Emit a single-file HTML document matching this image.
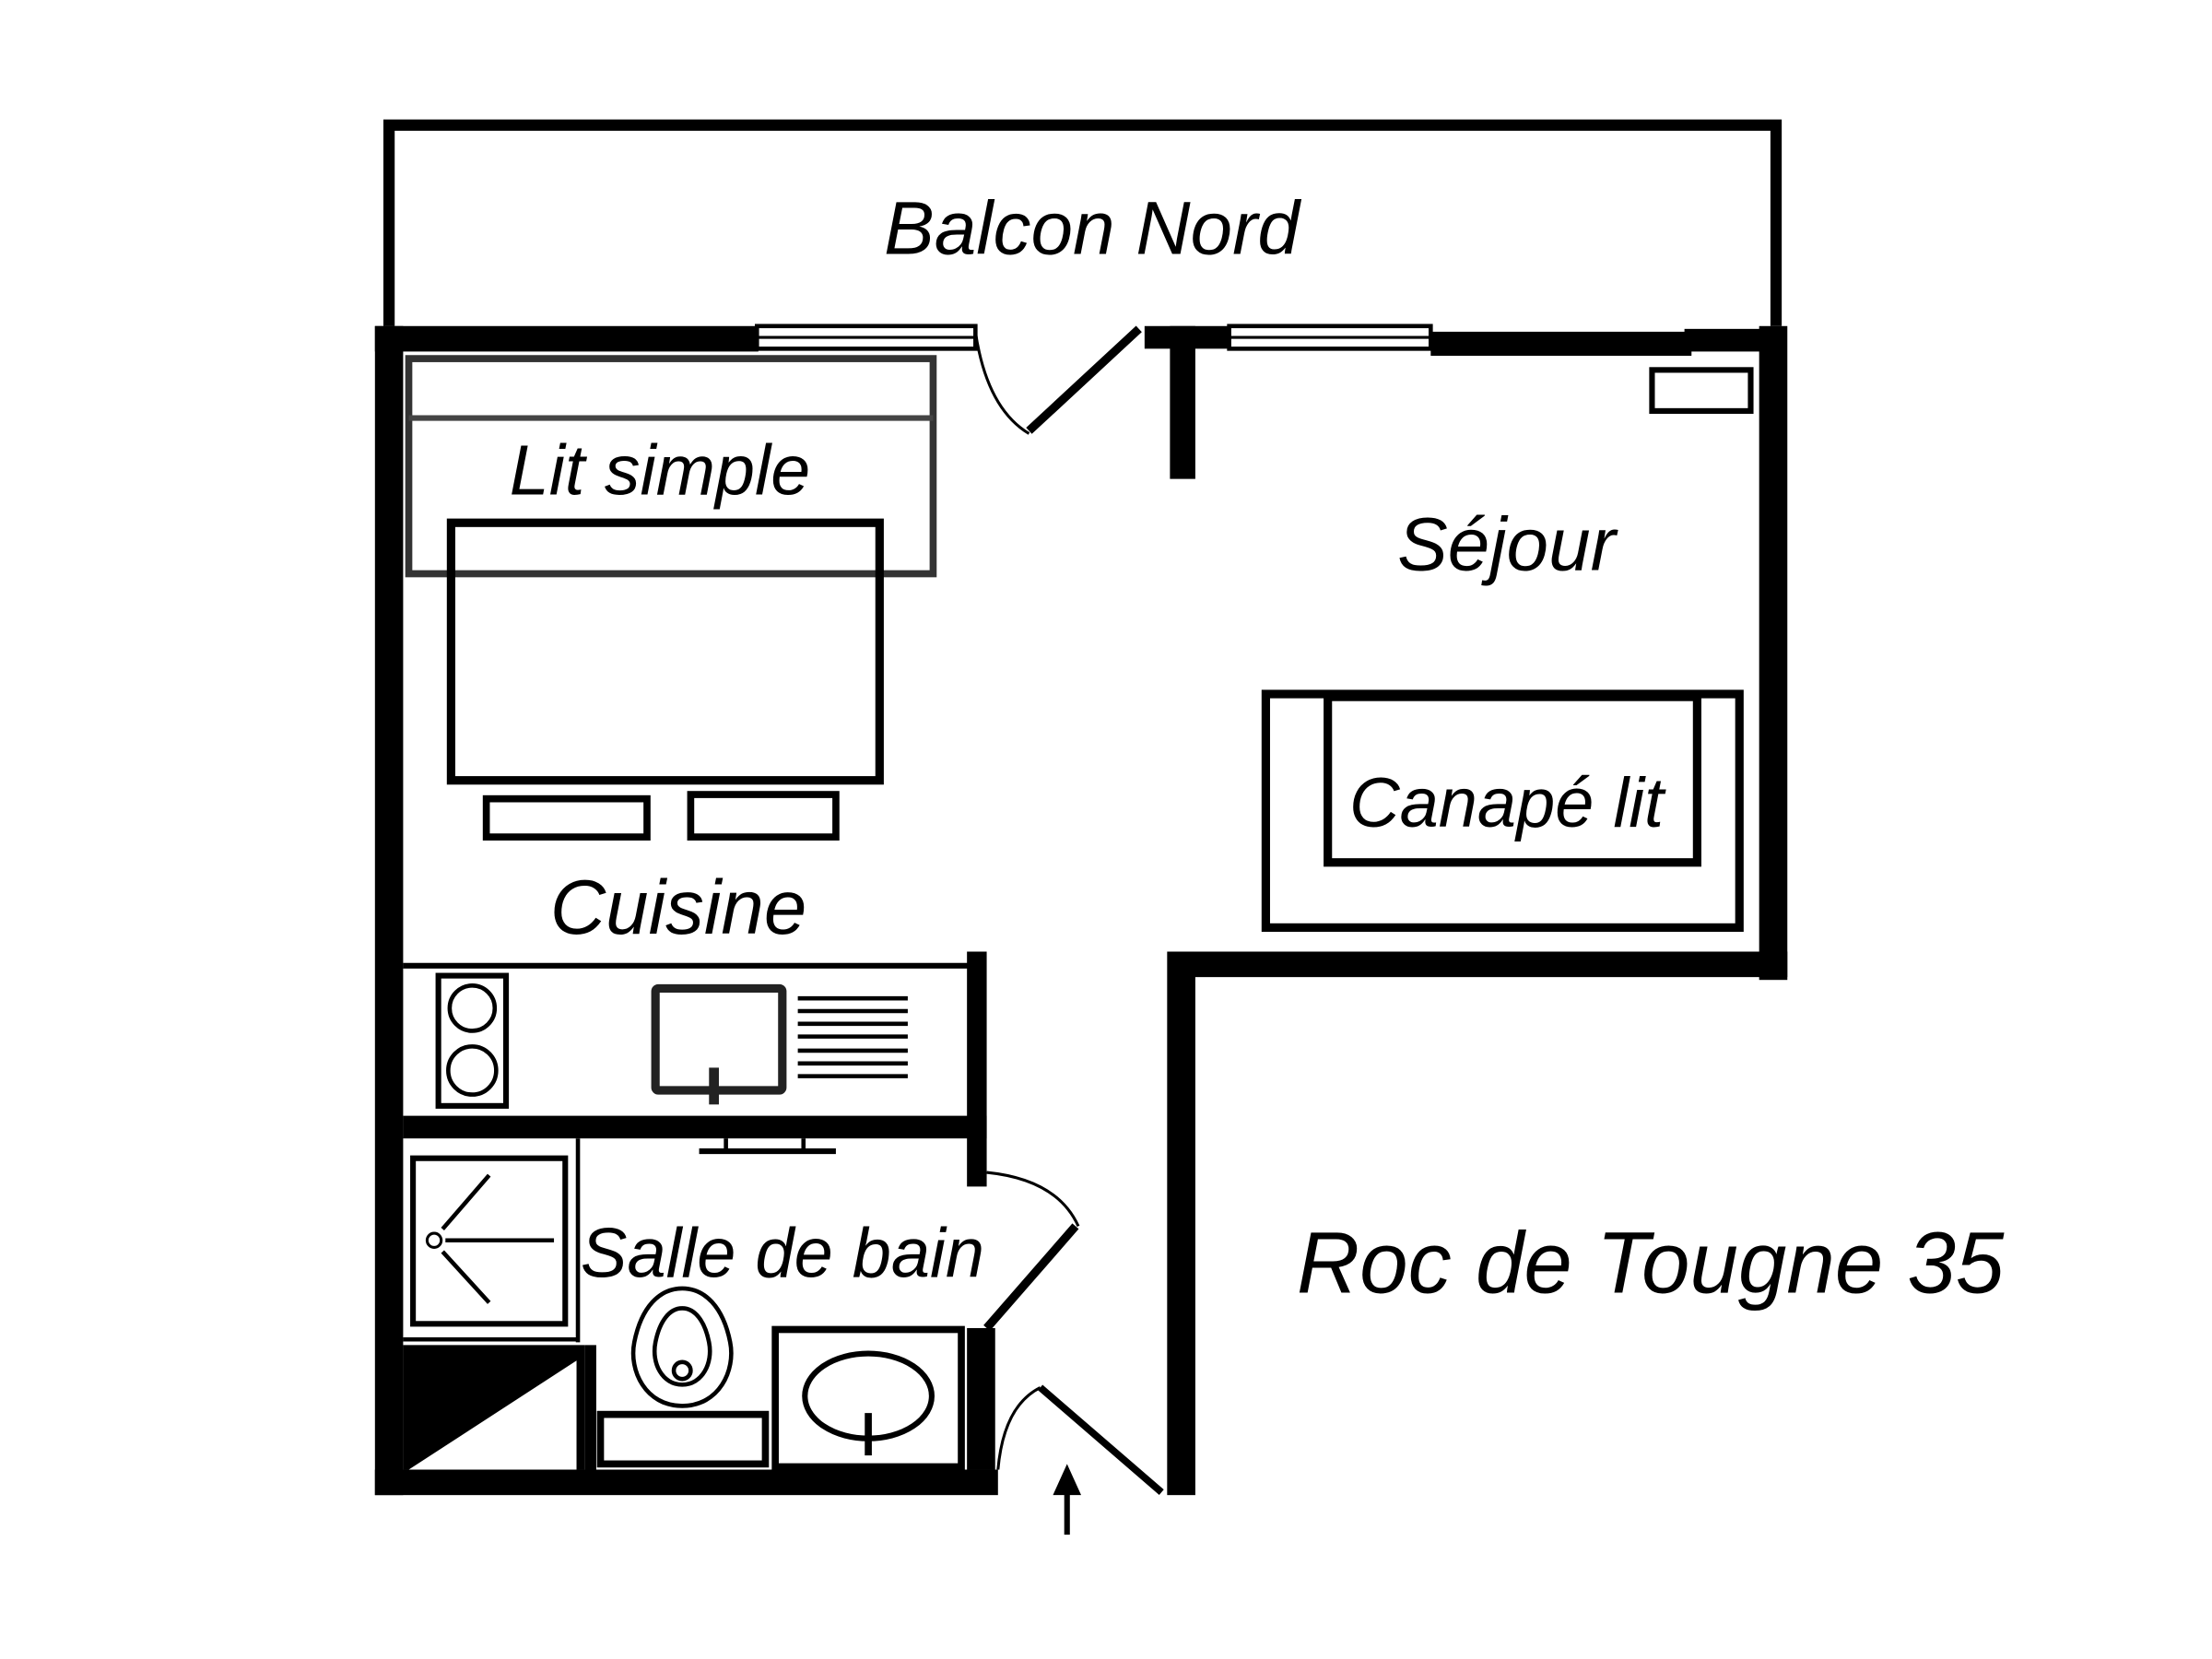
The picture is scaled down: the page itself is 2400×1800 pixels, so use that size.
<!DOCTYPE html>
<html><head><meta charset="utf-8"><style>html,body{margin:0;padding:0;background:#fff}svg{display:block}text{font-family:"Liberation Sans",sans-serif;font-style:italic;fill:#000}</style></head><body>
<svg width="2400" height="1800" viewBox="0 0 1552 1164" xmlns="http://www.w3.org/2000/svg">
<rect width="1552" height="1164" fill="#fff"/>
<g transform="matrix(0.989 0 0 0.993 0 -1.6)">
<path d="M276 232 V90 H1260 V232" fill="none" stroke="#000" stroke-width="8"/>
<rect x="266" y="232" width="272" height="18"/>
<rect x="537" y="232" width="155" height="16" fill="#fff" stroke="#000" stroke-width="3"/>
<line x1="537" y1="240" x2="692" y2="240" stroke="#000" stroke-width="2"/>
<path d="M692 236 Q700 290 730 308" fill="none" stroke="#000" stroke-width="2"/>
<line x1="730" y1="306" x2="808" y2="234" stroke="#000" stroke-width="6"/>
<rect x="812" y="232" width="60" height="16"/>
<rect x="830" y="232" width="18" height="108"/>
<rect x="872" y="232" width="143" height="16" fill="#fff" stroke="#000" stroke-width="3"/>
<line x1="872" y1="240" x2="1015" y2="240" stroke="#000" stroke-width="2"/>
<rect x="1015" y="236" width="185" height="17"/>
<rect x="1195" y="234" width="60" height="16"/>
<rect x="1248" y="232" width="20" height="462"/>
<rect x="1172" y="263" width="70" height="29" fill="none" stroke="#000" stroke-width="4"/>
<rect x="266" y="232" width="20" height="826"/>
<rect x="830" y="674" width="438" height="18"/>
<rect x="828" y="674" width="20" height="384"/>
<rect x="266" y="1040" width="442" height="18"/>
<path d="M708 1040 Q712 995 738 982" fill="none" stroke="#000" stroke-width="2"/>
<line x1="738" y1="982" x2="824" y2="1056" stroke="#000" stroke-width="5"/>
<line x1="757" y1="1086" x2="757" y2="1055" stroke="#000" stroke-width="4"/>
<polygon points="757,1036 747,1058 767,1058"/>
<rect x="290" y="255" width="372" height="152" fill="none" stroke="#333" stroke-width="5"/>
<line x1="290" y1="297" x2="662" y2="297" stroke="#444" stroke-width="4"/>
<rect x="320" y="371" width="304" height="182" fill="none" stroke="#000" stroke-width="6"/>
<rect x="345" y="566" width="114" height="27" fill="none" stroke="#000" stroke-width="5"/>
<rect x="490" y="563" width="103" height="30" fill="none" stroke="#000" stroke-width="5"/>
<rect x="898" y="492" width="336" height="165" fill="none" stroke="#000" stroke-width="6"/>
<rect x="942" y="494" width="262" height="117" fill="none" stroke="#000" stroke-width="6"/>
<line x1="286" y1="684" x2="690" y2="684" stroke="#000" stroke-width="4"/>
<rect x="686" y="674" width="14" height="166"/>
<rect x="286" y="790" width="414" height="16"/>
<rect x="311" y="691" width="48" height="92" fill="none" stroke="#000" stroke-width="4"/>
<circle cx="335" cy="714" r="16" fill="none" stroke="#000" stroke-width="3"/>
<circle cx="335" cy="758" r="17" fill="none" stroke="#000" stroke-width="3"/>
<rect x="465" y="700" width="90" height="72" fill="none" stroke="#222" stroke-width="6" rx="2"/>
<rect x="503" y="756" width="7" height="26" fill="#222"/>
<g stroke="#000" stroke-width="3"><line x1="566" y1="707" x2="644" y2="707"/><line x1="566" y1="716" x2="644" y2="716"/><line x1="566" y1="725" x2="644" y2="725"/><line x1="566" y1="734" x2="644" y2="734"/><line x1="566" y1="744" x2="644" y2="744"/><line x1="566" y1="753" x2="644" y2="753"/><line x1="566" y1="762" x2="644" y2="762"/></g>
<line x1="496" y1="815" x2="593" y2="815" stroke="#000" stroke-width="4"/>
<line x1="515" y1="806" x2="515" y2="815" stroke="#000" stroke-width="3"/>
<line x1="570" y1="806" x2="570" y2="815" stroke="#000" stroke-width="3"/>
<line x1="410" y1="806" x2="410" y2="950" stroke="#000" stroke-width="3"/>
<line x1="286" y1="948" x2="410" y2="948" stroke="#000" stroke-width="3"/>
<rect x="293" y="820" width="108" height="117" fill="none" stroke="#000" stroke-width="4"/>
<circle cx="308" cy="878" r="5" fill="none" stroke="#000" stroke-width="2"/>
<g stroke="#000" stroke-width="3"><line x1="316" y1="878" x2="393" y2="878"/><line x1="314" y1="870" x2="347" y2="832"/><line x1="314" y1="886" x2="347" y2="922"/></g>
<polygon points="286,952 415,952 415,1040 286,1040"/>
<polygon points="290,1040 409,963 409,1040" fill="#fff"/>
<rect x="415" y="952" width="8" height="90"/>
<path d="M700 830 Q750 835 765 868" fill="none" stroke="#000" stroke-width="2"/>
<line x1="763" y1="868" x2="700" y2="940" stroke="#000" stroke-width="6"/>
<rect x="686" y="940" width="20" height="100"/>
<path d="M484 995 C458 995 446 970 450 950 C455 925 468 912 484 912 C500 912 513 925 518 950 C522 970 510 995 484 995Z" fill="none" stroke="#000" stroke-width="3"/>
<path d="M484 980 C470 980 462 965 465 950 C468 935 475 926 484 926 C493 926 500 935 503 950 C506 965 498 980 484 980Z" fill="none" stroke="#000" stroke-width="3"/>
<circle cx="484" cy="970" r="6" fill="none" stroke="#000" stroke-width="3"/>
<rect x="426" y="1001" width="117" height="35" fill="none" stroke="#000" stroke-width="5"/>
<rect x="550" y="941" width="132" height="97" fill="none" stroke="#000" stroke-width="5"/>
<ellipse cx="616" cy="988" rx="45" ry="30" fill="none" stroke="#000" stroke-width="4"/>
<line x1="616" y1="1000" x2="616" y2="1030" stroke="#000" stroke-width="5"/>
</g>
<text x="766" y="178" font-size="53" text-anchor="middle">Balcon Nord</text>
<text x="463" y="347" font-size="50" text-anchor="middle">Lit simple</text>
<text x="1057" y="400" font-size="53" text-anchor="middle">Séjour</text>
<text x="1057" y="580" font-size="49" text-anchor="middle">Canapé lit</text>
<text x="476" y="655" font-size="54" text-anchor="middle">Cuisine</text>
<text x="549" y="896" font-size="49" text-anchor="middle">Salle de bain</text>
<text x="1158" y="907" font-size="61" text-anchor="middle">Roc de Tougne 35</text>
</svg>
</body></html>
